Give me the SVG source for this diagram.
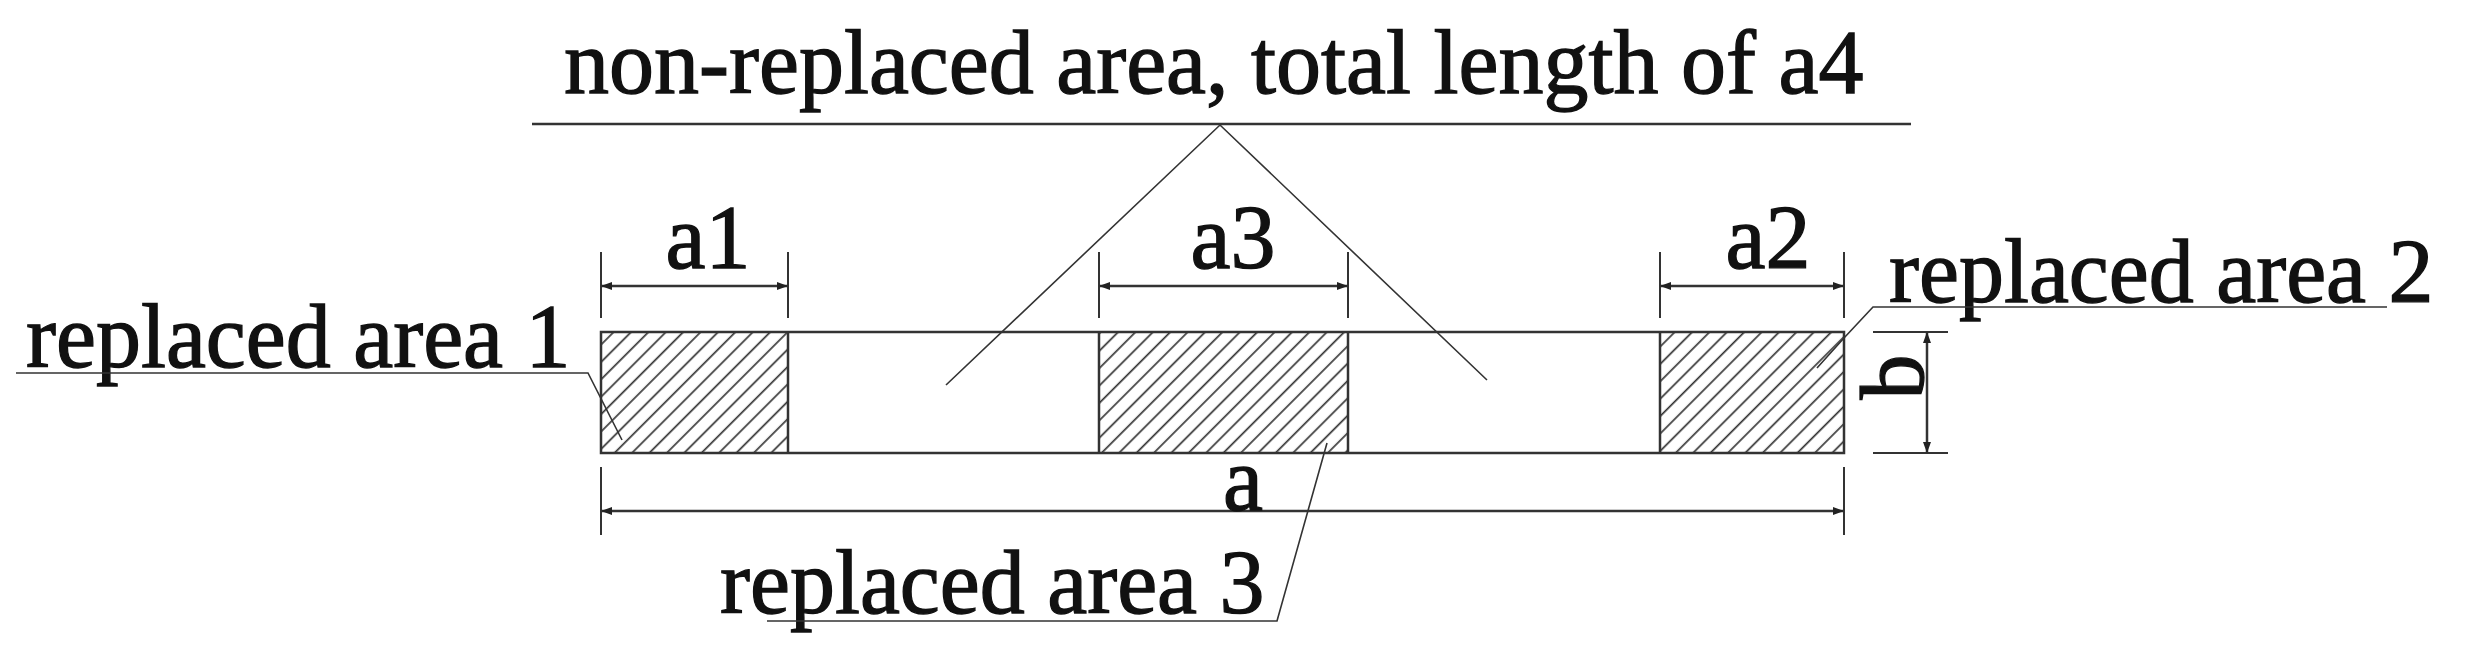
<svg xmlns="http://www.w3.org/2000/svg" width="2471" height="663" viewBox="0 0 2471 663">
<style>
.t{font-family:"Liberation Serif","Times New Roman",serif;font-size:90px;fill:#111;stroke:#111;stroke-width:1.3}
.ln{stroke:#333;stroke-width:2.5;fill:none}
.dim{stroke:#333;stroke-width:2.5;fill:none}
.ext{stroke:#333;stroke-width:2;fill:none}
.ld{stroke:#333;stroke-width:1.6;fill:none}
</style>
<defs>
<pattern id="hatch" patternUnits="userSpaceOnUse" width="12.3" height="12.3" patternTransform="rotate(45)">
<line x1="4.5" y1="-1" x2="4.5" y2="14" stroke="#333" stroke-width="1.7"/>
</pattern>
<marker id="arr" viewBox="0 0 11 8" refX="11" refY="4" markerWidth="11" markerHeight="8" markerUnits="userSpaceOnUse" orient="auto-start-reverse">
<path d="M0,0 L11,4 L0,8 z" fill="#222"/>
</marker>
</defs>
<rect width="2471" height="663" fill="#fff"/>

<g id="beam">
<rect x="601" y="332" width="187" height="121" fill="url(#hatch)"/>
<rect x="1099" y="332" width="249" height="121" fill="url(#hatch)"/>
<rect x="1660" y="332" width="184" height="121" fill="url(#hatch)"/>
<rect class="ln" x="601" y="332" width="1243" height="121"/>
<line class="ln" x1="788" y1="332" x2="788" y2="453"/>
<line class="ln" x1="1099" y1="332" x2="1099" y2="453"/>
<line class="ln" x1="1348" y1="332" x2="1348" y2="453"/>
<line class="ln" x1="1660" y1="332" x2="1660" y2="453"/>
</g>

<g id="dim-a1">
<line class="ext" x1="601" y1="252" x2="601" y2="318"/>
<line class="ext" x1="788" y1="252" x2="788" y2="318"/>
<line class="dim" x1="601" y1="286" x2="788" y2="286" marker-start="url(#arr)" marker-end="url(#arr)"/>
<text class="t" x="708" y="268" text-anchor="middle">a1</text>
</g>
<g id="dim-a3">
<line class="ext" x1="1099" y1="252" x2="1099" y2="318"/>
<line class="ext" x1="1348" y1="252" x2="1348" y2="318"/>
<line class="dim" x1="1099" y1="286" x2="1348" y2="286" marker-start="url(#arr)" marker-end="url(#arr)"/>
<text class="t" x="1233" y="268" text-anchor="middle">a3</text>
</g>
<g id="dim-a2">
<line class="ext" x1="1660" y1="252" x2="1660" y2="318"/>
<line class="ext" x1="1844" y1="252" x2="1844" y2="318"/>
<line class="dim" x1="1660" y1="286" x2="1844" y2="286" marker-start="url(#arr)" marker-end="url(#arr)"/>
<text class="t" x="1768" y="268" text-anchor="middle">a2</text>
</g>
<g id="dim-a">
<line class="ext" x1="601" y1="467" x2="601" y2="535"/>
<line class="ext" x1="1844" y1="467" x2="1844" y2="535"/>
<line class="dim" x1="601" y1="511" x2="1844" y2="511" marker-start="url(#arr)" marker-end="url(#arr)"/>
<text class="t" x="1243" y="510" text-anchor="middle">a</text>
</g>
<g id="dim-b">
<line class="ext" x1="1873" y1="332" x2="1948" y2="332"/>
<line class="ext" x1="1873" y1="453" x2="1948" y2="453"/>
<line class="dim" x1="1927" y1="332" x2="1927" y2="453" marker-start="url(#arr)" marker-end="url(#arr)"/>
<text class="t" text-anchor="middle" transform="translate(1923,377) rotate(-90)">b</text>
</g>

<g id="label-title">
<text class="t" x="564" y="93" font-size="91">non-replaced area, total length of a4</text>
</g>
<g id="label-area1">
<text class="t" x="26" y="367">replaced area 1</text>
</g>
<g id="label-area2">
<text class="t" x="1889" y="302">replaced area 2</text>
</g>
<g id="label-area3">
<text class="t" x="720" y="613">replaced area 3</text>
</g>

<g id="connectors">
<line class="ln" x1="532" y1="124" x2="1911" y2="124"/>
<polyline class="ld" points="946,385 1220,125 1487,380"/>
<polyline class="ld" points="16,373 588,373 622,440"/>
<polyline class="ld" points="2387,307 1873,307 1844,338 1817,368"/>
<polyline class="ld" points="767,621 1277,621 1327,443"/>
</g>
</svg>
